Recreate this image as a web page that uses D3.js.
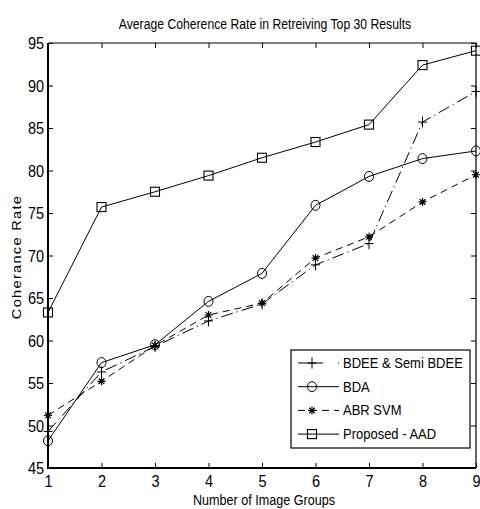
<!DOCTYPE html>
<html>
<head>
<meta charset="utf-8">
<script src="https://cdn.jsdelivr.net/npm/d3@7/dist/d3.min.js"></script>
<style>
  html, body { margin: 0; padding: 0; background: #fff; }
  svg { display: block; }
  text { font-family: "Liberation Sans", Arial, sans-serif; fill: #000; }
</style>
</head>
<body>
<svg id="chart" width="480" height="509"></svg>
<script>
// Number of image groups on the x axis
const groups = [1, 2, 3, 4, 5, 6, 7, 8, 9];

// Coherence rate per method
const bdee = [49.3, 56.3, 59.3, 62.3, 64.3, 68.9, 71.4, 85.7, 89.3];
const bda  = [48.2, 57.4, 59.5, 64.6, 67.9, 75.9, 79.3, 81.4, 82.3];
const abr  = [51.2, 55.2, 59.4, 63.0, 64.4, 69.7, 72.2, 76.3, 79.5];
const aad  = [63.3, 75.7, 77.5, 79.4, 81.5, 83.35, 85.4, 92.4, 94.1];

const xTicks = [1, 2, 3, 4, 5, 6, 7, 8, 9];
const yTicks = [45, 50, 55, 60, 65, 70, 75, 80, 85, 90, 95];

const seriesNames = ["BDEE & Semi BDEE", "BDA", "ABR SVM", "Proposed - AAD"];

const series = [
  { name: seriesNames[0], values: bdee, dash: "12,4,1.2,4", marker: "plus" },
  { name: seriesNames[1], values: bda,  dash: null,         marker: "circle" },
  { name: seriesNames[2], values: abr,  dash: "7,5",        marker: "star" },
  { name: seriesNames[3], values: aad,  dash: null,         marker: "square" }
];

const svg = d3.select("#chart");
const pl = 48, pr = 476, pt = 43, pb = 468;

const x = d3.scaleLinear().domain([1, 9]).range([pl, pr]);
const y = d3.scaleLinear().domain([45, 95]).range([pb, pt]);

// Vertically stretched text helper (anchored at the baseline point)
function stretch(sel, k, ax, ay) {
  sel.attr("transform", `translate(${ax},${ay}) scale(1,${k}) translate(${-ax},${-ay})`);
}

// Title
const title = svg.append("text")
  .attr("x", (pl + pr) / 2 + 3).attr("y", 29)
  .attr("text-anchor", "middle")
  .attr("font-size", 12.2)
  .text("Average Coherence Rate in Retreiving Top 30 Results");
stretch(title, 1.2, 0, 29);

// Axes with inward ticks on all four sides
const tickLen = 5;
const gx = svg.append("g").attr("transform", `translate(0,${pb})`)
  .call(d3.axisBottom(x).tickValues(xTicks).tickSize(-tickLen).tickPadding(6).tickFormat(d3.format("d")));
const gy = svg.append("g").attr("transform", `translate(${pl},0)`)
  .call(d3.axisLeft(y).tickValues(yTicks).tickSize(-tickLen).tickPadding(4).tickFormat(d3.format("d")));
const gxt = svg.append("g").attr("transform", `translate(0,${pt})`)
  .call(d3.axisTop(x).tickValues(xTicks).tickSize(-tickLen).tickFormat(""));
const gyr = svg.append("g").attr("transform", `translate(${pr},0)`)
  .call(d3.axisRight(y).tickValues(yTicks).tickSize(-tickLen).tickFormat(""));

[gx, gy, gxt, gyr].forEach(g => {
  g.select(".domain").remove();
  g.selectAll(".tick line").attr("stroke", "#000").attr("stroke-width", 1);
});
[gx, gy].forEach(g => {
  g.selectAll(".tick text")
    .attr("font-size", 14.5)
    .attr("font-family", "Liberation Sans, Arial, sans-serif")
    .attr("fill", "#000")
    .attr("transform", "scale(1,1.15)");
});
gx.selectAll(".tick text").attr("dy", "0.71em");
gy.selectAll(".tick text").attr("dy", "0.35em");

// Plot frame
svg.append("path")
  .attr("d", `M${pl},${pt}H${pr}V${pb}`)
  .attr("fill", "none").attr("stroke", "#000").attr("stroke-width", 1.2);
svg.append("path")
  .attr("d", `M${pl},${pt}V${pb}H${pr}`)
  .attr("fill", "none").attr("stroke", "#000").attr("stroke-width", 2);

// Axis titles
const xTitle = svg.append("text")
  .attr("x", (pl + pr) / 2 + 2).attr("y", 505)
  .attr("text-anchor", "middle").attr("font-size", 12.6)
  .text("Number of Image Groups");
stretch(xTitle, 1.15, 0, 505);
svg.append("text")
  .attr("transform", `translate(21,257) rotate(-90) scale(1.08,1)`)
  .attr("text-anchor", "middle").attr("font-size", 13.5)
  .attr("letter-spacing", 1.2)
  .text("Coherance Rate");

// Marker shapes
function drawMarker(g, type, cx, cy) {
  if (type === "circle") {
    g.append("ellipse").attr("cx", cx).attr("cy", cy).attr("rx", 4.5).attr("ry", 5)
      .attr("fill", "none").attr("stroke", "#000").attr("stroke-width", 1);
  } else if (type === "square") {
    g.append("rect").attr("x", cx - 4.5).attr("y", cy - 4.5).attr("width", 9).attr("height", 9)
      .attr("fill", "none").attr("stroke", "#000").attr("stroke-width", 1.1);
  } else if (type === "plus") {
    g.append("path").attr("d", `M${cx - 4.5},${cy}H${cx + 4.5}M${cx},${cy - 5.5}V${cy + 5.5}`)
      .attr("stroke", "#000").attr("stroke-width", 1);
  } else if (type === "star") {
    const r = 4;
    const d = [0, 45, 90, 135].map(a => {
      const t = a * Math.PI / 180;
      return `M${cx - r * Math.cos(t)},${cy - r * Math.sin(t)}L${cx + r * Math.cos(t)},${cy + r * Math.sin(t)}`;
    }).join("");
    g.append("path").attr("d", d).attr("stroke", "#000").attr("stroke-width", 1.2);
  }
}

const line = d3.line().x((d, i) => x(groups[i])).y(d => y(d));

series.forEach(s => {
  const g = svg.append("g");
  g.append("path").datum(s.values)
    .attr("d", line)
    .attr("fill", "none").attr("stroke", "#000").attr("stroke-width", 1)
    .attr("stroke-dasharray", s.dash);
  s.values.forEach((v, i) => drawMarker(g, s.marker, x(groups[i]), y(v)));
});

// Legend
const lg = svg.append("g");
const lx0 = 291, ly0 = 350, lw = 179, lh = 98;
lg.append("rect").attr("x", lx0).attr("y", ly0).attr("width", lw).attr("height", lh)
  .attr("fill", "#fff").attr("stroke", "#000").attr("stroke-width", 1.2);
series.forEach((s, i) => {
  const yy = ly0 + 13 + i * 23.7;
  const sample = s.dash === null ? null : (i === 0 ? "25,15,1.2,4" : s.dash);
  lg.append("path").attr("d", `M${lx0 + 7},${yy}H${lx0 + 48}`)
    .attr("stroke", "#000").attr("stroke-width", 1)
    .attr("stroke-dasharray", sample);
  drawMarker(lg, s.marker, lx0 + 21, yy);
  const t = lg.append("text").attr("x", lx0 + 52).attr("y", yy + 5)
    .attr("font-size", 13)
    .text(s.name);
  stretch(t, 1.18, 0, yy + 5);
});
</script>
</body>
</html>
